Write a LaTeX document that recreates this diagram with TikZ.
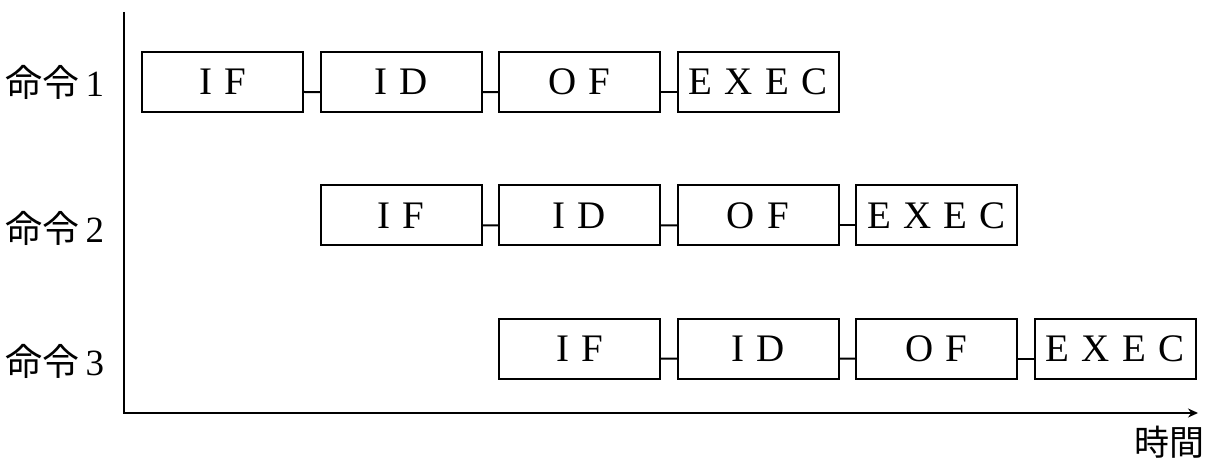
\documentclass[tikz,border=0pt]{standalone}
\usepackage{fontspec}
\setmainfont[WordSpace=1.25]{Liberation Serif}
\newfontfamily\jpfont{Noto Sans CJK JP}
\usetikzlibrary{matrix,arrows.meta}

\begin{document}
\begin{tikzpicture}[x=1pt,y=1pt,line width=1pt]
\useasboundingbox (0,0) rectangle (604,-232);
\matrix (m) [matrix of nodes,
nodes in empty cells,
anchor=north west,inner sep=0pt,outer sep=0pt,
nodes={font={\fontsize{19.5}{19.5}\selectfont},minimum width=80.5pt,minimum height=30pt,inner sep=0pt,outer sep=0pt},
column sep=8.75pt,row sep=30.25pt
] at (71,-26) {
I F&I D&O F&E X E C&&\\
&I F&I D&O F&E X E C&\\
&&I F&I D&O F&E X E C\\
};

\foreach \r [evaluate=\r as \last using int(\r+3),
evaluate=\r as \stop using int(\r+2)] in {1,2,3} {
\foreach \c in {\r,...,\last} {
\draw (m-\r-\c.north west) rectangle (m-\r-\c.south east);
};
\foreach \c [evaluate=\c as \n using int(\c+1)] in {\r,...,\stop} {
\draw ([yshift=-5pt]m-\r-\c.east) -- ([yshift=-5pt]m-\r-\n.west);
};
\node (lbl\r) [anchor=east,inner sep=0pt,font={\fontsize{18.5}{18.5}\selectfont}]
at (52.5,0 |- m-\r-1) {{\jpfont 命令}\,\r};
};

\coordinate (ytop) at (62,-6);
\coordinate (orig) at (62,-206.5);
\coordinate (xend) at (599,-206.5);
\draw[line width=1.3pt,-{Stealth[length=5pt,width=4.5pt]}] (ytop) -- (orig) -- (xend);
\node (time) [inner sep=0pt,font={\jpfont\fontsize{17.5}{17.5}\selectfont}] at (584.75,-221.25) {時間};
\end{tikzpicture}
\end{document}
